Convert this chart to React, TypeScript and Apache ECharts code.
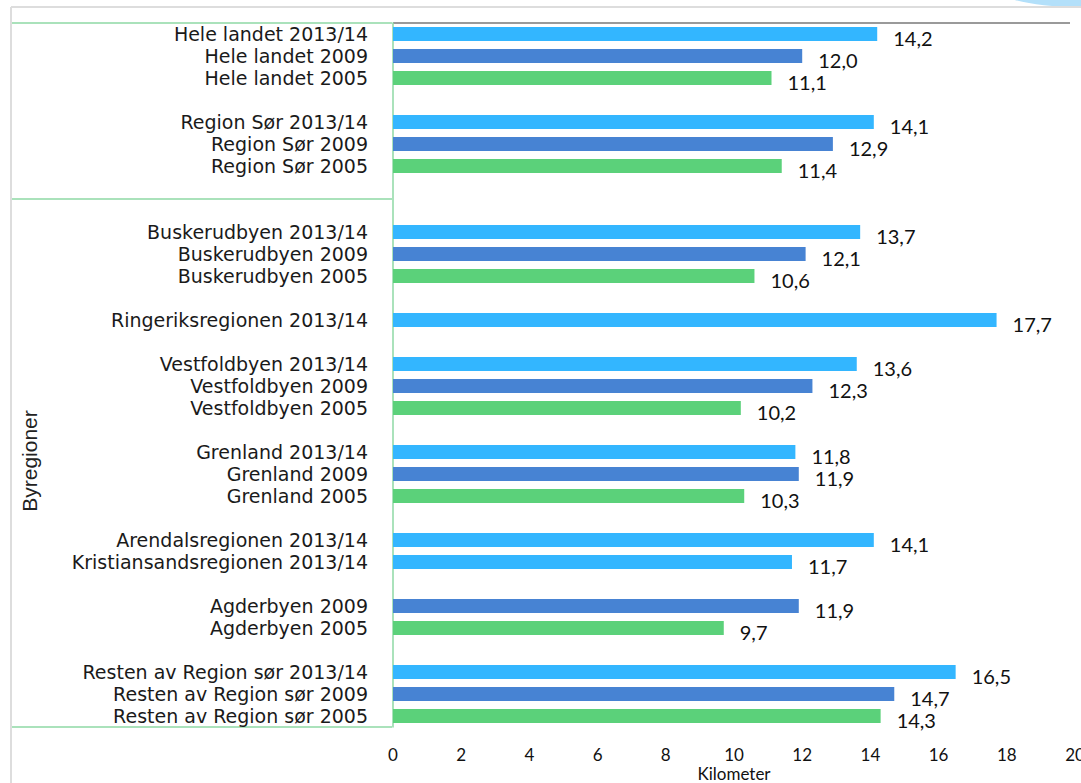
import React, { useEffect, useRef } from "react";
import * as echarts from "echarts";

const categories: string[] = [
  "Hele landet 2013/14", "Hele landet 2009", "Hele landet 2005", "",
  "Region Sør 2013/14", "Region Sør 2009", "Region Sør 2005", "", "",
  "Buskerudbyen 2013/14", "Buskerudbyen 2009", "Buskerudbyen 2005", "",
  "Ringeriksregionen 2013/14", "",
  "Vestfoldbyen 2013/14", "Vestfoldbyen 2009", "Vestfoldbyen 2005", "",
  "Grenland 2013/14", "Grenland 2009", "Grenland 2005", "",
  "Arendalsregionen 2013/14", "Kristiansandsregionen 2013/14", "",
  "Agderbyen 2009", "Agderbyen 2005", "",
  "Resten av Region sør 2013/14", "Resten av Region sør 2009", "Resten av Region sør 2005",
];

const values: (number | null)[] = [
  14.2, 12.0, 11.1, null,
  14.1, 12.9, 11.4, null, null,
  13.7, 12.1, 10.6, null,
  17.7, null,
  13.6, 12.3, 10.2, null,
  11.8, 11.9, 10.3, null,
  14.1, 11.7, null,
  11.9, 9.7, null,
  16.5, 14.7, 14.3,
];

const periods = ["2013/14", "2009", "2005"];
const periodColors = ["#33B6FF", "#4783D3", "#5BD17A"];
const xTicks = [0, 20, 2];
const xAxisName = "Kilometer";
const yAxisTitle = "Byregioner";

export default function App() {
  const ref = useRef<HTMLDivElement>(null);
  useEffect(() => {
    if (!ref.current) return;
    const chart = echarts.init(ref.current, undefined, { renderer: "svg" });
    const series = periods.map((p, i) => ({
      type: "bar",
      name: p,
      barWidth: 14,
      barGap: "-100%",
      itemStyle: { color: periodColors[i] },
      data: values.map((v, k) =>
        v != null && categories[k].endsWith(" " + p) ? v : null
      ),
      label: {
        show: true,
        position: "right",
        distance: 16,
        offset: [0, 4],
        fontFamily: "Lato",
        fontSize: 20,
        lineHeight: 20,
        color: "#111",
        formatter: (prm: any) => Number(prm.value).toFixed(1).replace(".", ","),
      },
    }));
    chart.setOption({
      animation: false,
      backgroundColor: "#fff",
      grid: {
        left: 393,
        right: 6,
        top: 23,
        bottom: 56,
        containLabel: false,
        outerBoundsMode: "none",
      },
      xAxis: {
        type: "value",
        min: xTicks[0],
        max: xTicks[1],
        interval: xTicks[2],
        axisLine: { show: false },
        axisTick: { show: false },
        splitLine: { show: false },
        axisLabel: {
          margin: 19,
          fontFamily: "Lato",
          fontSize: 17,
          color: "#111",
        },
        name: xAxisName,
        nameLocation: "middle",
        nameGap: 38,
        nameMoveOverlap: false,
        nameTextStyle: { fontFamily: "Lato", fontSize: 17, color: "#111" },
      },
      yAxis: {
        type: "category",
        inverse: true,
        data: categories,
        axisLine: { show: true, lineStyle: { color: "#8ED9A4", width: 1.5 } },
        axisTick: { show: false },
        axisLabel: {
          interval: 0,
          margin: 25,
          fontFamily: "DejaVu Sans",
          fontSize: 19,
          lineHeight: 19,
          color: "#1a1a1a",
        },
      },
      graphic: [
        { type: "ellipse", shape: { cx: 1078, cy: -16, rx: 88, ry: 23 }, style: { fill: "#B3E0FA" }, silent: true },
        { type: "line", shape: { x1: 11, y1: 7, x2: 1081, y2: 7 }, style: { stroke: "#DDDDDD", lineWidth: 2 } },
        { type: "line", shape: { x1: 11, y1: 7, x2: 11, y2: 783 }, style: { stroke: "#DDDDDD", lineWidth: 2 } },
        { type: "line", shape: { x1: 393, y1: 23, x2: 1070, y2: 23 }, style: { stroke: "#9A9A9A", lineWidth: 2 } },
        { type: "line", shape: { x1: 12, y1: 23, x2: 392, y2: 23 }, style: { stroke: "#8ED9A4", lineWidth: 1.5 } },
        { type: "line", shape: { x1: 12, y1: 199, x2: 392, y2: 199 }, style: { stroke: "#8ED9A4", lineWidth: 1.5 } },
        { type: "line", shape: { x1: 12, y1: 727, x2: 392, y2: 727 }, style: { stroke: "#8ED9A4", lineWidth: 1.5 } },
        {
          type: "text",
          x: 29,
          y: 461,
          rotation: Math.PI / 2,
          style: {
            text: yAxisTitle,
            fontFamily: "Liberation Sans",
            fontSize: 21,
            fill: "#222",
            align: "center",
            verticalAlign: "middle",
          },
        },
      ],
      series,
    });
    return () => chart.dispose();
  }, []);
  return (
    <div
      ref={ref}
      style={{ position: "fixed", left: 0, top: 0, width: 1081, height: 783 }}
    />
  );
}
